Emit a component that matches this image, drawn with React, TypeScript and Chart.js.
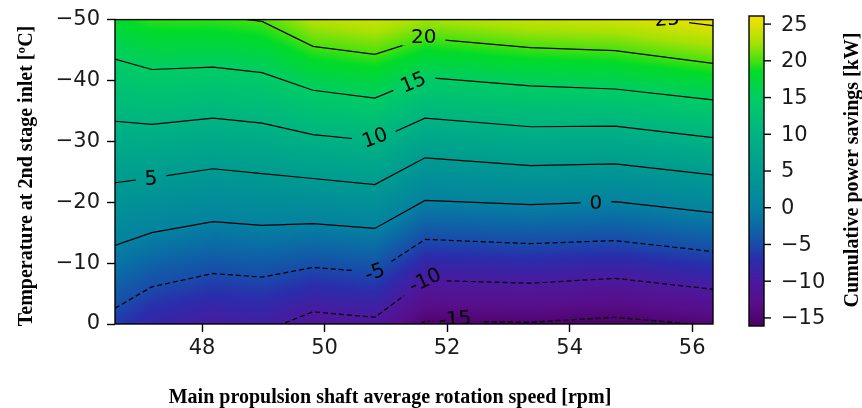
import React, { useEffect, useRef } from "react";
import { Chart, registerables } from "chart.js";

Chart.register(...registerables);

// ---------------- Data ----------------
// Shaft speed columns (rpm) at which the contour lines bend
const rpmColumns = [46.58, 47.18, 48.18, 48.98, 49.81, 50.82, 51.64, 53.36, 54.74, 56.34];
// Contour levels (kW)
const contourLevels = [-15, -10, -5, 0, 5, 10, 15, 20, 25];
// Temperature (ºC) where each contour level lies, at each rpm column
const tempLevelMinus15 = [18.0, 11.9, 9.2, 10.0, 5.4, 6.1, -0.5, -0.3, -1.1, 0.3];
const tempLevelMinus10 = [7.7, 2.9, 0.5, 1.3, -2.0, -1.1, -7.2, -6.7, -7.5, -5.7];
const tempLevelMinus5 = [-2.6, -6.1, -8.3, -7.7, -9.3, -8.5, -13.9, -13.2, -13.7, -11.9];
const tempLevel0 = [-12.9, -15.0, -16.8, -16.2, -16.5, -15.7, -20.3, -19.6, -20.1, -18.3];
const tempLevel5 = [-23.2, -24.0, -25.5, -24.7, -23.9, -22.9, -27.3, -26.0, -26.3, -24.5];
const tempLevel10 = [-33.3, -32.8, -33.8, -33.0, -31.1, -30.1, -33.8, -32.4, -32.5, -30.6];
const tempLevel15 = [-43.5, -41.8, -42.2, -41.3, -38.4, -37.1, -40.5, -39.1, -38.6, -36.8];
const tempLevel20 = [-53.6, -51.0, -50.7, -49.7, -45.6, -44.3, -46.9, -45.4, -44.9, -42.8];
const tempLevel25 = [-63.7, -60.3, -58.8, -57.8, -52.9, -51.5, -53.4, -51.6, -51.0, -49.0];
const levelTemps = [
  tempLevelMinus15,
  tempLevelMinus10,
  tempLevelMinus5,
  tempLevel0,
  tempLevel5,
  tempLevel10,
  tempLevel15,
  tempLevel20,
  tempLevel25,
];

// Inline contour labels
const labelTexts = ["-15", "-10", "-5", "0", "5", "10", "15", "20", "25"];
const labelRpm = [52.13, 51.64, 50.82, 54.43, 47.17, 50.82, 51.45, 51.62, 55.59];
const labelTemp = [-0.8, -7.2, -8.5, -19.9, -23.9, -30.6, -39.7, -47.2, -50.1];
const labelAngle = [-4, -25, -20, 0, -3, -20, -23, 0, -5];

// Axes
const xMin = 46.58;
const xMax = 56.34;
const yMin = -50;
const yMax = 0;
const xTicks = [48, 50, 52, 54, 56];
const yTicks = [0, -10, -20, -30, -40, -50];
const colorbarTicks = [-15, -10, -5, 0, 5, 10, 15, 20, 25];
const colorbarMin = -16.1;
const colorbarMax = 26.1;

const xTitle = "Main propulsion shaft average rotation speed [rpm]";
const yTitle = "Temperature at 2nd stage inlet [ºC]";
const cbTitle = "Cumulative power savings [kW]";

// ---------------- Styles ----------------
const cmapStops: number[][] = [
  [-16.1, 75, 0, 100],
  [-13, 88, 14, 138],
  [-10, 75, 25, 158],
  [-7, 42, 45, 172],
  [-5, 25, 75, 170],
  [-2, 10, 110, 165],
  [0, 5, 130, 160],
  [5, 0, 155, 145],
  [10, 0, 180, 130],
  [15, 0, 205, 100],
  [18.5, 0, 220, 40],
  [20, 70, 225, 15],
  [22.5, 170, 225, 5],
  [26.1, 245, 225, 0],
];
const TICK_FONT = "DejaVu Sans";
const TITLE_FONT = '"Liberation Serif", "Times New Roman", serif';

function colorFor(v: number): number[] {
  if (v <= cmapStops[0][0]) return cmapStops[0].slice(1);
  const last = cmapStops[cmapStops.length - 1];
  if (v >= last[0]) return last.slice(1);
  for (let i = 0; i < cmapStops.length - 1; i++) {
    const a = cmapStops[i];
    const b = cmapStops[i + 1];
    if (v >= a[0] && v <= b[0]) {
      const t = (v - a[0]) / (b[0] - a[0]);
      return [a[1] + (b[1] - a[1]) * t, a[2] + (b[2] - a[2]) * t, a[3] + (b[3] - a[3]) * t];
    }
  }
  return last.slice(1);
}

// value of the field at (rpm, temp), following the contour positions
function fieldValue(rpm: number, temp: number): number {
  let i = 0;
  while (i < rpmColumns.length - 2 && rpm > rpmColumns[i + 1]) i++;
  const t = (rpm - rpmColumns[i]) / (rpmColumns[i + 1] - rpmColumns[i]);
  const tl = levelTemps.map((a) => a[i] + (a[i + 1] - a[i]) * t);
  let k = 0;
  while (k < tl.length - 2 && temp < tl[k + 1]) k++;
  const f = (temp - tl[k]) / (tl[k + 1] - tl[k]);
  return contourLevels[k] + f * (contourLevels[k + 1] - contourLevels[k]);
}

const minusSign = (s: string) => s.replace("-", "\u2212");

const LABEL_FONT_SIZE = 20;

function labelBoxes(chart: any) {
  const ctx = chart.ctx;
  ctx.save();
  ctx.font = `${LABEL_FONT_SIZE}px ${TICK_FONT}`;
  const boxes = labelTexts.map((txt, i) => {
    const w = ctx.measureText(txt).width;
    return {
      txt,
      cx: chart.scales.x.getPixelForValue(labelRpm[i]),
      cy: chart.scales.y.getPixelForValue(labelTemp[i]),
      ang: (labelAngle[i] * Math.PI) / 180,
      w: w + 18,
      h: LABEL_FONT_SIZE * 0.9,
    };
  });
  ctx.restore();
  return boxes;
}

const heatmapPlugin = {
  id: "heatmap",
  beforeDatasetsDraw(chart: any) {
    const { ctx, chartArea: a, scales } = chart;
    const w = Math.round(a.right - a.left);
    const h = Math.round(a.bottom - a.top);
    const off = document.createElement("canvas");
    off.width = w;
    off.height = h;
    const octx = off.getContext("2d")!;
    const img = octx.createImageData(w, h);
    for (let py = 0; py < h; py++) {
      const temp = scales.y.getValueForPixel(a.top + py + 0.5);
      for (let px = 0; px < w; px++) {
        const rpm = scales.x.getValueForPixel(a.left + px + 0.5);
        const c = colorFor(fieldValue(rpm, temp));
        const o = (py * w + px) * 4;
        img.data[o] = c[0];
        img.data[o + 1] = c[1];
        img.data[o + 2] = c[2];
        img.data[o + 3] = 255;
      }
    }
    octx.putImageData(img, 0, 0);
    ctx.drawImage(off, a.left, a.top, a.right - a.left, a.bottom - a.top);
  },
  beforeDatasetDraw(chart: any) {
    const ctx = chart.ctx;
    ctx.save();
    ctx.beginPath();
    ctx.rect(0, 0, chart.width, chart.height);
    for (const b of labelBoxes(chart)) {
      const cos = Math.cos(b.ang);
      const sin = Math.sin(b.ang);
      const pts = [
        [-b.w / 2, -b.h / 2],
        [b.w / 2, -b.h / 2],
        [b.w / 2, b.h / 2],
        [-b.w / 2, b.h / 2],
      ].map(([u, v]) => [b.cx + u * cos - v * sin, b.cy + u * sin + v * cos]);
      ctx.moveTo(pts[0][0], pts[0][1]);
      for (let j = 1; j < 4; j++) ctx.lineTo(pts[j][0], pts[j][1]);
      ctx.closePath();
    }
    ctx.clip("evenodd");
  },
  afterDatasetDraw(chart: any) {
    chart.ctx.restore();
  },
  afterDatasetsDraw(chart: any) {
    const { ctx, chartArea: a } = chart;
    ctx.save();
    ctx.beginPath();
    ctx.rect(a.left, a.top, a.right - a.left, a.bottom - a.top);
    ctx.clip();
    ctx.fillStyle = "#000";
    ctx.font = `${LABEL_FONT_SIZE}px ${TICK_FONT}`;
    ctx.textAlign = "center";
    ctx.textBaseline = "middle";
    for (const b of labelBoxes(chart)) {
      ctx.save();
      ctx.translate(b.cx, b.cy);
      ctx.rotate(b.ang);
      ctx.fillText(b.txt, 0, 1);
      ctx.restore();
    }
    ctx.restore();
  },
  afterDraw(chart: any) {
    const { ctx, chartArea: a } = chart;
    // frame
    ctx.save();
    ctx.strokeStyle = "#000";
    ctx.lineWidth = 1.4;
    ctx.strokeRect(a.left, a.top, a.right - a.left, a.bottom - a.top);

    // colorbar
    const cbL = 749;
    const cbR = 764;
    const cbT = 16;
    const cbB = 326;
    const cbPix = (v: number) => cbB - ((v - colorbarMin) / (colorbarMax - colorbarMin)) * (cbB - cbT);
    for (let py = cbT; py < cbB; py++) {
      const v = colorbarMin + ((cbB - py - 0.5) / (cbB - cbT)) * (colorbarMax - colorbarMin);
      const c = colorFor(v);
      ctx.fillStyle = `rgb(${c[0]},${c[1]},${c[2]})`;
      ctx.fillRect(cbL, py, cbR - cbL, 1);
    }
    ctx.strokeStyle = "#000";
    ctx.lineWidth = 1.4;
    ctx.strokeRect(cbL, cbT, cbR - cbL, cbB - cbT);
    ctx.font = `21px ${TICK_FONT}`;
    ctx.fillStyle = "#1a1a1a";
    ctx.textAlign = "left";
    ctx.textBaseline = "middle";
    for (const v of colorbarTicks) {
      const y = cbPix(v);
      ctx.beginPath();
      ctx.moveTo(cbR, y);
      ctx.lineTo(cbR + 7, y);
      ctx.stroke();
      ctx.fillText(minusSign(String(v)), 781, y + 1);
    }

    // titles
    ctx.fillStyle = "#000";
    ctx.font = `bold 20px ${TITLE_FONT}`;
    ctx.textAlign = "center";
    ctx.textBaseline = "alphabetic";
    ctx.fillText(xTitle, 390, 403);

    ctx.save();
    ctx.translate(32, 176);
    ctx.rotate(-Math.PI / 2);
    ctx.fillText(yTitle, 0, 0);
    ctx.restore();

    ctx.save();
    ctx.translate(858, 170);
    ctx.rotate(-Math.PI / 2);
    ctx.fillText(cbTitle, 0, 0);
    ctx.restore();
    ctx.restore();
  },
};

export default function App() {
  const ref = useRef<HTMLCanvasElement>(null);
  useEffect(() => {
    document.body.style.margin = "0";
    const canvas = ref.current!;
    const datasets = contourLevels.map((lvl, k) => ({
      label: String(lvl),
      data: rpmColumns.map((x, i) => ({ x, y: levelTemps[k][i] })),
      showLine: true,
      pointRadius: 0,
      borderColor: "#000",
      borderWidth: 1.2,
      borderDash: lvl < 0 ? [5, 3] : [],
      tension: 0,
      clip: 0,
    }));
    const chart = new Chart(canvas, {
      type: "scatter",
      data: { datasets },
      options: {
        animation: false,
        responsive: true,
        maintainAspectRatio: false,
        layout: { padding: { top: 18, right: 149, left: 0, bottom: 0 } },
        plugins: { legend: { display: false }, tooltip: { enabled: false } },
        events: [],
        scales: {
          x: {
            type: "linear",
            min: xMin,
            max: xMax,
            afterBuildTicks: (s: any) => {
              s.ticks = xTicks.map((v) => ({ value: v }));
            },
            afterFit: (s: any) => {
              s.height = 84;
            },
            grid: {
              display: true,
              drawOnChartArea: false,
              drawTicks: true,
              tickLength: 8,
              tickWidth: 1.4,
              tickColor: "#000",
            },
            border: { display: false },
            ticks: {
              color: "#1a1a1a",
              padding: 4,
              maxRotation: 0,
              font: { family: TICK_FONT, size: 21 },
              callback: (v: any) => minusSign(String(v)),
            },
          },
          y: {
            type: "linear",
            min: yMin,
            max: yMax,
            reverse: true,
            afterBuildTicks: (s: any) => {
              s.ticks = yTicks.map((v) => ({ value: v }));
            },
            afterFit: (s: any) => {
              s.width = 115;
            },
            grid: {
              display: true,
              drawOnChartArea: false,
              drawTicks: true,
              tickLength: 8,
              tickWidth: 1.4,
              tickColor: "#000",
            },
            border: { display: false },
            ticks: {
              color: "#1a1a1a",
              padding: 7,
              font: { family: TICK_FONT, size: 21 },
              callback: (v: any) => minusSign(String(v)),
            },
          },
        },
      },
      plugins: [heatmapPlugin],
    } as any);
    return () => chart.destroy();
  }, []);
  return (
    <div style={{ width: 862, height: 408, position: "relative" }}>
      <canvas ref={ref} />
    </div>
  );
}
